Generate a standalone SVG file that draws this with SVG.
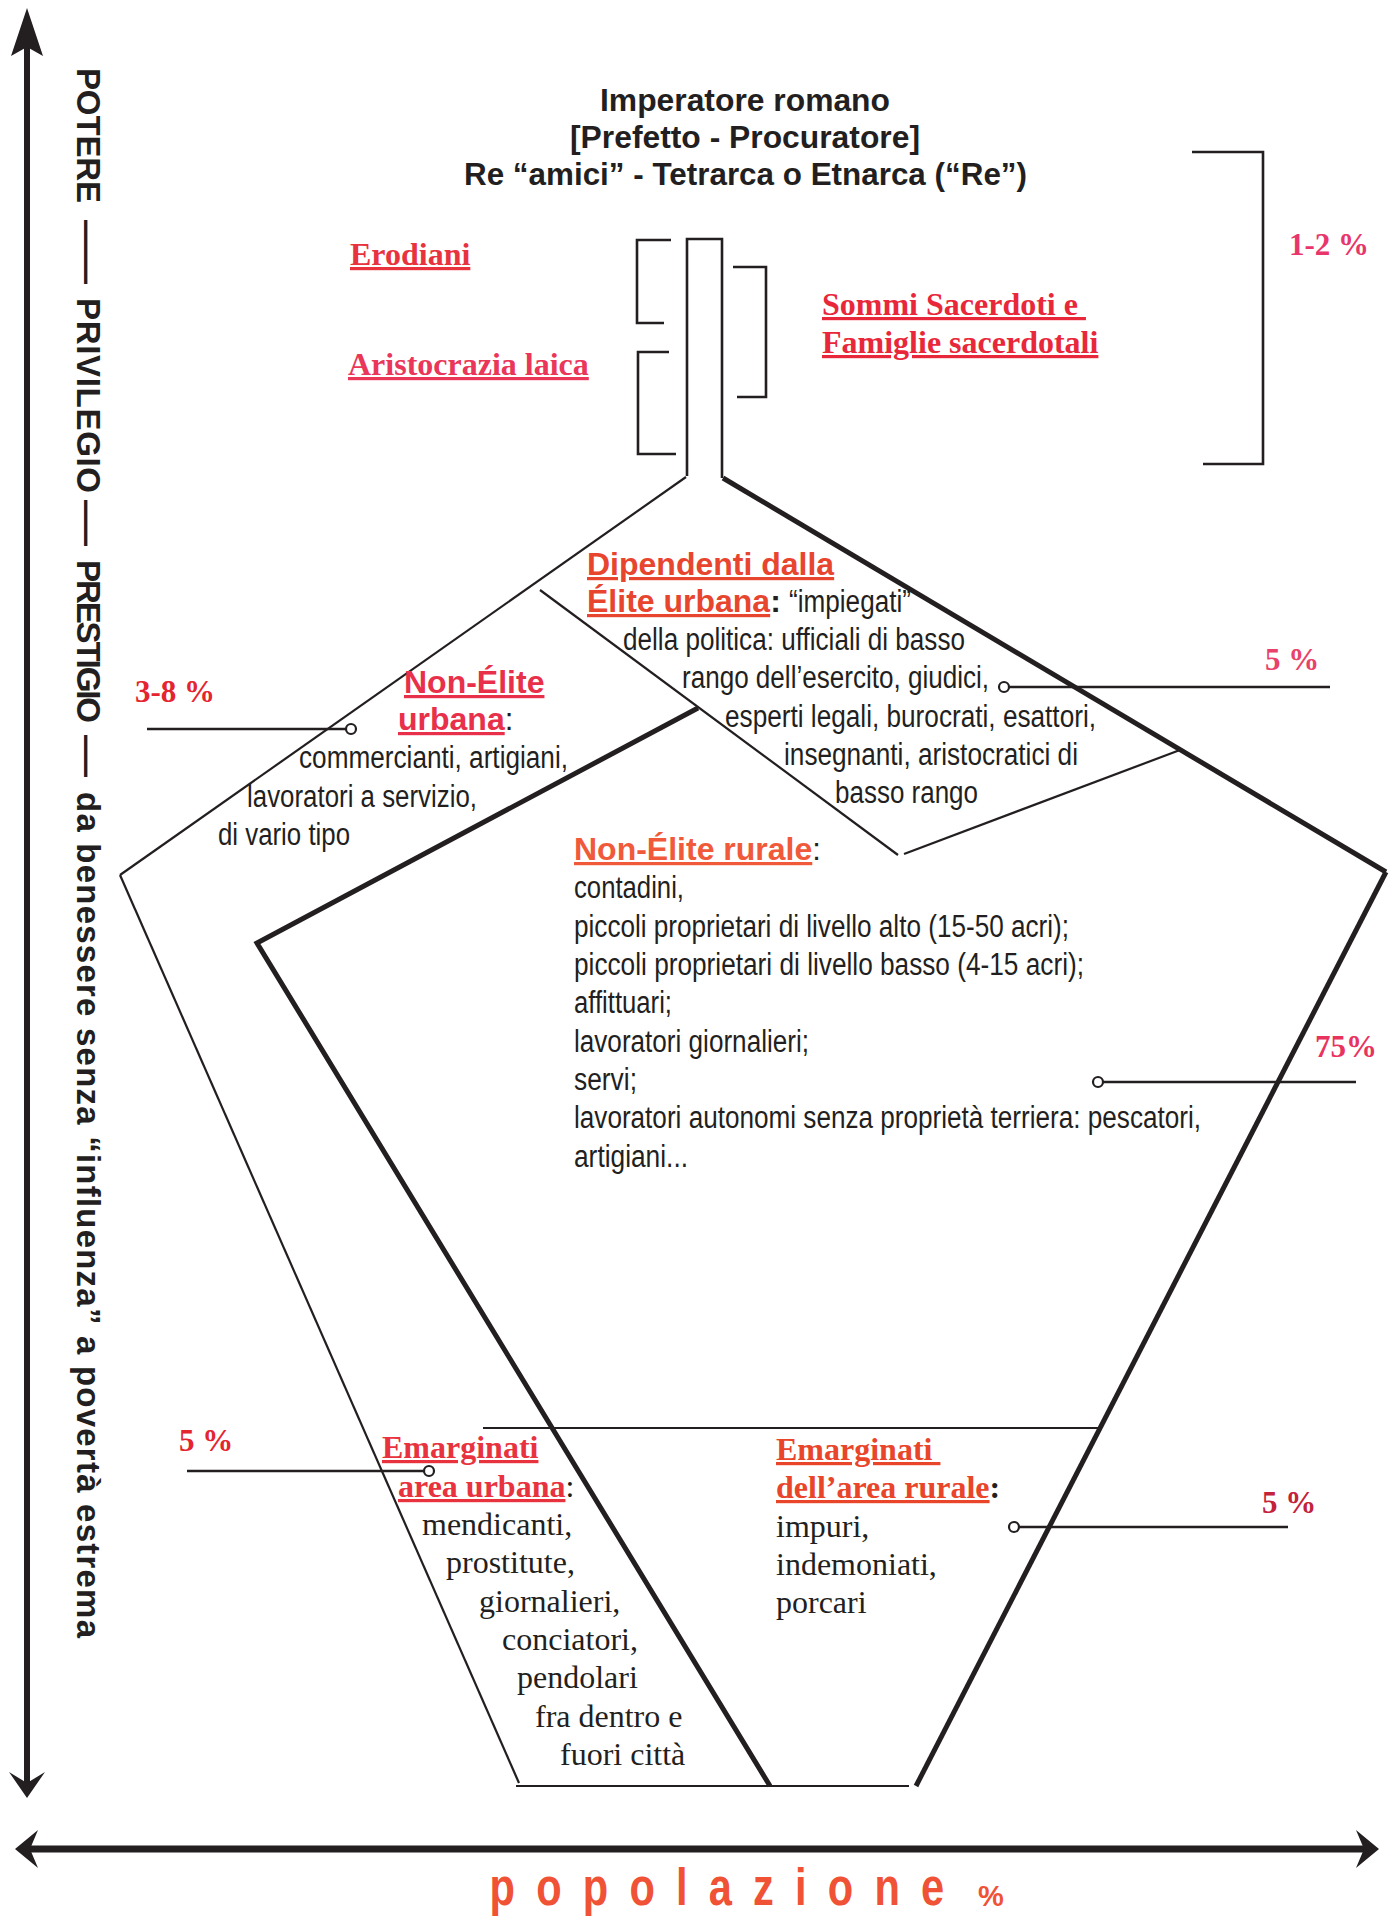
<svg xmlns="http://www.w3.org/2000/svg" width="1397" height="1919" viewBox="0 0 1397 1919">
<style>
.ln{stroke:#231f20;fill:none;stroke-width:2.2}
.tk{stroke:#231f20;fill:none;stroke-width:5}
.br{stroke:#231f20;fill:none;stroke-width:2.6}
.cn{stroke:#231f20;fill:none;stroke-width:2.6}
.dot{stroke:#231f20;fill:#fff;stroke-width:2.2}
.ttl{font-family:"Liberation Sans",Arial,sans-serif;font-weight:bold;font-size:31px;fill:#231f20}
.h{font-family:"Liberation Sans",Arial,sans-serif;font-weight:bold;font-size:32px;text-decoration:underline}
.b{font-family:"Liberation Sans",Arial,sans-serif;font-size:31px;fill:#231f20}
.sh{font-family:"Liberation Serif","Times New Roman",serif;font-weight:bold;font-size:32px;text-decoration:underline;white-space:pre}
.sb{font-family:"Liberation Serif","Times New Roman",serif;font-size:32px;fill:#231f20}
.pc{font-family:"Liberation Serif","Times New Roman",serif;font-weight:bold;font-size:31px}
.vx{font-family:"Liberation Sans",Arial,sans-serif;font-weight:bold;font-size:33px;fill:#231f20}
</style>

<g id="axes">
  <line x1="27" y1="40" x2="27" y2="1788" stroke="#231f20" stroke-width="6"/>
  <path d="M27,8 L43,56 L27,47 L11,56 Z" fill="#231f20"/>
  <path d="M27,1798 L45,1772 L27,1783 L9,1772 Z" fill="#231f20"/>
  <line x1="26" y1="1849" x2="1368" y2="1849" stroke="#231f20" stroke-width="7"/>
  <path d="M15,1849 L38,1830 L30,1849 L38,1868 Z" fill="#231f20"/>
  <path d="M1379,1849 L1356,1830 L1364,1849 L1356,1868 Z" fill="#231f20"/>
</g>

<g id="vertical-label" transform="translate(77,0) rotate(90)">
  <text class="vx" x="68" y="0" textLength="135">POTERE</text>
  <text class="vx" x="220" y="0" textLength="64" lengthAdjust="spacingAndGlyphs">——</text>
  <text class="vx" x="298" y="0" textLength="195">PRIVILEGIO</text>
  <text class="vx" x="500" y="0" textLength="46" lengthAdjust="spacingAndGlyphs">——</text>
  <text class="vx" x="560" y="0" textLength="163">PRESTIGIO</text>
  <text class="vx" x="735" y="0" textLength="42" lengthAdjust="spacingAndGlyphs">—</text>
  <text class="vx" x="792" y="0" textLength="846">da benessere senza “influenza” a povertà estrema</text>
</g>

<g id="x-label">
  <text transform="scale(0.8,1)" x="612" y="1905" font-family="'Liberation Sans',Arial,sans-serif" font-weight="bold" font-size="52" letter-spacing="26.5" fill="#f05236">popolazione</text>
  <text x="978" y="1906" font-family="'Liberation Sans',Arial,sans-serif" font-weight="bold" font-size="29" fill="#f05236">%</text>
</g>

<g id="title">
  <text class="ttl" x="600" y="111" textLength="290" lengthAdjust="spacingAndGlyphs">Imperatore romano</text>
  <text class="ttl" x="570" y="148" textLength="350" lengthAdjust="spacingAndGlyphs">[Prefetto - Procuratore]</text>
  <text class="ttl" x="464" y="185" textLength="563" lengthAdjust="spacingAndGlyphs">Re “amici” - Tetrarca o Etnarca (“Re”)</text>
</g>

<g id="top-stem">
  <path class="br" d="M687,476 V239 H722 V478"/>
  <path class="br" d="M671,240 H637 V323 H664"/>
  <path class="br" d="M669,352 H638 V454 H676"/>
  <path class="br" d="M733,267 H766 V397 H737"/>
  <path class="br" d="M1192,152 H1263 V464 H1203"/>
</g>

<g id="erodiani">
  <text class="sh" x="350" y="265" fill="#e8333f">Erodiani</text>
</g>
<g id="aristocrazia-laica">
  <text class="sh" x="348" y="375" fill="#ea3659">Aristocrazia laica</text>
</g>
<g id="sommi-sacerdoti">
  <text class="sh" x="822" y="315" fill="#e8283a">Sommi Sacerdoti e </text>
  <text class="sh" x="822" y="353" fill="#e8283a">Famiglie sacerdotali</text>
</g>
<g id="pct-1-2">
  <text class="pc" x="1289" y="255" fill="#e8366c">1-2 %</text>
</g>

<g id="shape">
  <line class="ln" x1="686" y1="477" x2="120" y2="875"/>
  <line class="ln" x1="120" y1="875" x2="519" y2="1783"/>
  <line class="tk" x1="723" y1="478" x2="1386" y2="872"/>
  <line class="tk" x1="1386" y1="872" x2="916" y2="1786"/>
  <line class="ln" x1="540" y1="590" x2="898" y2="855"/>
  <line class="ln" x1="904" y1="854" x2="1180" y2="750"/>
  <polyline class="tk" points="698,708 257,943 770,1786"/>
  <line class="ln" x1="483" y1="1428" x2="1098" y2="1428" stroke-width="1.6"/>
  <line class="ln" x1="516" y1="1786" x2="909" y2="1786" stroke-width="3"/>
</g>

<g id="dipendenti-elite-urbana">
  <text class="h" x="587" y="575" fill="#e8452f">Dipendenti dalla</text>
  <text x="587" y="612"><tspan class="h" fill="#e8452f">Élite urbana</tspan><tspan font-family="'Liberation Sans',Arial,sans-serif" font-weight="bold" font-size="32" fill="#231f20">:</tspan></text>
  <text class="b" x="789" y="612" textLength="122" lengthAdjust="spacingAndGlyphs">“impiegati”</text>
  <text class="b" x="623" y="650" textLength="342" lengthAdjust="spacingAndGlyphs">della politica: ufficiali di basso</text>
  <text class="b" x="682" y="688" textLength="307" lengthAdjust="spacingAndGlyphs">rango dell’esercito, giudici,</text>
  <text class="b" x="725" y="727" textLength="371" lengthAdjust="spacingAndGlyphs">esperti legali, burocrati, esattori,</text>
  <text class="b" x="784" y="765" textLength="294" lengthAdjust="spacingAndGlyphs">insegnanti, aristocratici di</text>
  <text class="b" x="835" y="803" textLength="143" lengthAdjust="spacingAndGlyphs">basso rango</text>
</g>

<g id="non-elite-urbana">
  <text class="h" x="404" y="693" fill="#e8304a">Non-Élite</text>
  <text x="398" y="730"><tspan class="h" fill="#e8304a">urbana</tspan><tspan font-family="'Liberation Sans',Arial,sans-serif" font-size="31" fill="#231f20">:</tspan></text>
  <text class="b" x="299" y="768" textLength="269" lengthAdjust="spacingAndGlyphs">commercianti, artigiani,</text>
  <text class="b" x="247" y="807" textLength="230" lengthAdjust="spacingAndGlyphs">lavoratori a servizio,</text>
  <text class="b" x="218" y="845" textLength="132" lengthAdjust="spacingAndGlyphs">di vario tipo</text>
</g>

<g id="non-elite-rurale">
  <text x="574" y="860"><tspan class="h" fill="#f05a3a">Non-Élite rurale</tspan><tspan font-family="'Liberation Sans',Arial,sans-serif" font-size="31" fill="#231f20">:</tspan></text>
  <text class="b" x="574" y="898" textLength="110" lengthAdjust="spacingAndGlyphs">contadini,</text>
  <text class="b" x="574" y="937" textLength="495" lengthAdjust="spacingAndGlyphs">piccoli proprietari di livello alto (15-50 acri);</text>
  <text class="b" x="574" y="975" textLength="510" lengthAdjust="spacingAndGlyphs">piccoli proprietari di livello basso (4-15 acri);</text>
  <text class="b" x="574" y="1013" textLength="98" lengthAdjust="spacingAndGlyphs">affittuari;</text>
  <text class="b" x="574" y="1052" textLength="235" lengthAdjust="spacingAndGlyphs">lavoratori giornalieri;</text>
  <text class="b" x="574" y="1090" textLength="63" lengthAdjust="spacingAndGlyphs">servi;</text>
  <text class="b" x="574" y="1128" textLength="627" lengthAdjust="spacingAndGlyphs">lavoratori autonomi senza proprietà terriera: pescatori,</text>
  <text class="b" x="574" y="1167" textLength="114" lengthAdjust="spacingAndGlyphs">artigiani...</text>
</g>

<g id="emarginati-area-urbana">
  <text class="sh" x="382" y="1458" fill="#e8333f">Emarginati</text>
  <text x="398" y="1497"><tspan class="sh" fill="#e8333f">area urbana</tspan><tspan class="sb">:</tspan></text>
  <text class="sb" x="422" y="1535">mendicanti,</text>
  <text class="sb" x="446" y="1573">prostitute,</text>
  <text class="sb" x="479" y="1612">giornalieri,</text>
  <text class="sb" x="502" y="1650">conciatori,</text>
  <text class="sb" x="517" y="1688">pendolari</text>
  <text class="sb" x="535" y="1727">fra dentro e</text>
  <text class="sb" x="560" y="1765">fuori città</text>
</g>

<g id="emarginati-area-rurale">
  <text class="sh" x="776" y="1460" fill="#e8452a">Emarginati </text>
  <text x="776" y="1498"><tspan class="sh" fill="#e8452a">dell’area rurale</tspan><tspan class="sb" font-weight="bold">:</tspan></text>
  <text class="sb" x="776" y="1537">impuri,</text>
  <text class="sb" x="776" y="1575">indemoniati,</text>
  <text class="sb" x="776" y="1613">porcari</text>
</g>

<g id="percent-labels">
  <text class="pc" x="135" y="702" fill="#e4252f">3-8 %</text>
  <text class="pc" x="1265" y="670" fill="#e8426a">5 %</text>
  <text class="pc" x="1315" y="1057" fill="#e8335f">75%</text>
  <text class="pc" x="179" y="1451" fill="#e4252f">5 %</text>
  <text class="pc" x="1262" y="1513" fill="#c4213a">5 %</text>
</g>

<g id="connectors">
  <line class="cn" x1="147" y1="729" x2="346" y2="729"/>
  <circle class="dot" cx="351" cy="729" r="5"/>
  <line class="cn" x1="1009" y1="687" x2="1330" y2="687"/>
  <circle class="dot" cx="1004" cy="687" r="5"/>
  <line class="cn" x1="1103" y1="1082" x2="1356" y2="1082"/>
  <circle class="dot" cx="1098" cy="1082" r="5"/>
  <line class="cn" x1="187" y1="1471" x2="424" y2="1471"/>
  <circle class="dot" cx="429" cy="1471" r="5"/>
  <line class="cn" x1="1019" y1="1527" x2="1288" y2="1527"/>
  <circle class="dot" cx="1014" cy="1527" r="5"/>
</g>
</svg>
